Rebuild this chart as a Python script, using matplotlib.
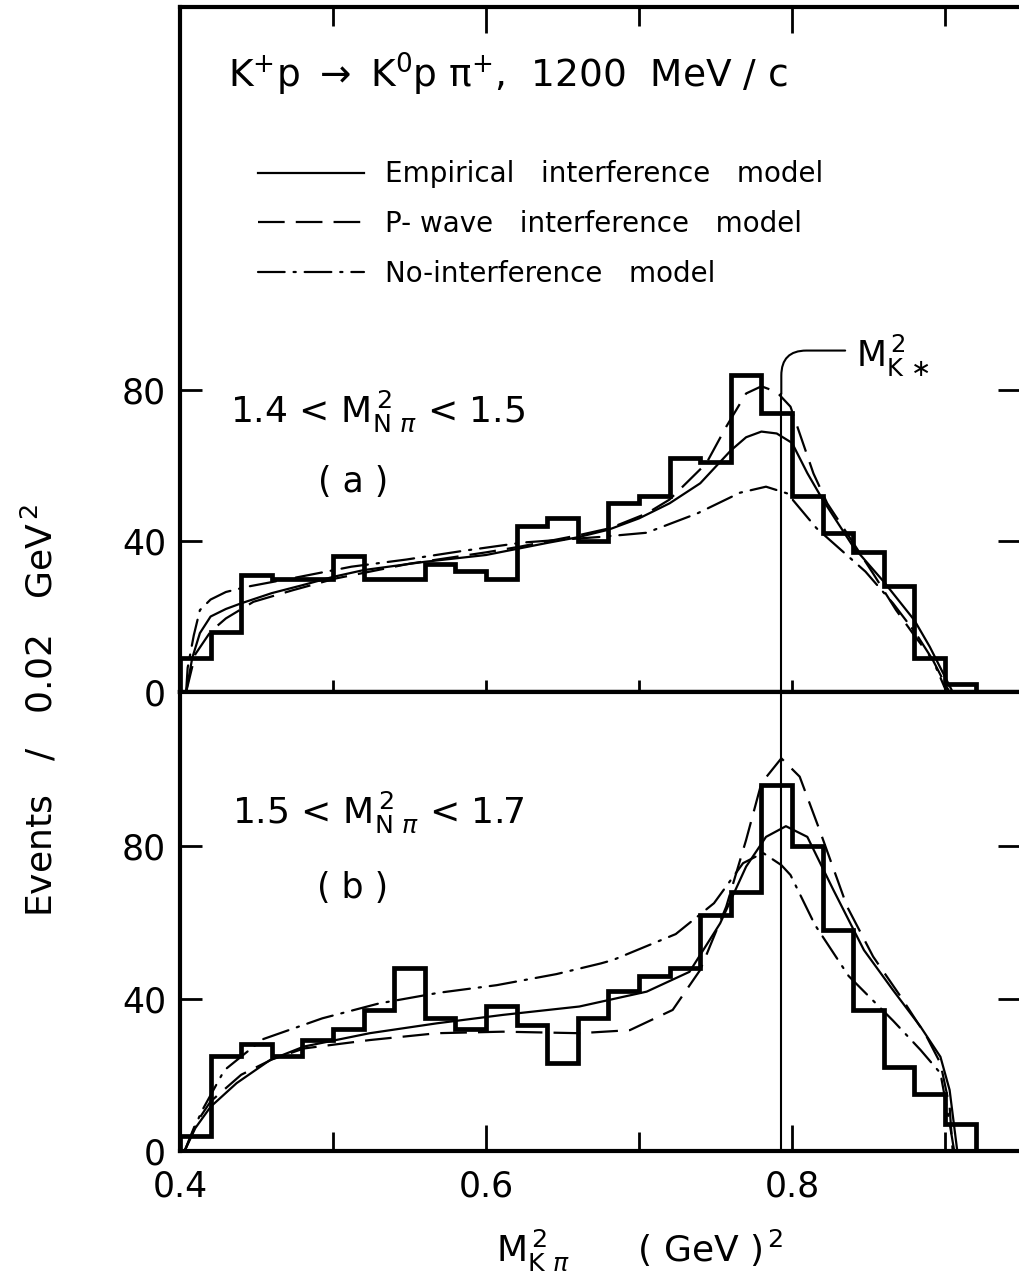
import matplotlib
matplotlib.use('Agg')
import matplotlib.pyplot as plt
import numpy as np

# bin edges of the K pi mass-squared histograms (GeV^2)
edges = [0.40, 0.42, 0.44, 0.46, 0.48, 0.50, 0.52, 0.54, 0.56, 0.58, 0.60,
         0.62, 0.64, 0.66, 0.68, 0.70, 0.72, 0.74, 0.76, 0.78, 0.80, 0.82,
         0.84, 0.86, 0.88, 0.90, 0.92]

# (a) 1.4 < M^2(N pi) < 1.5
counts_a = [9, 16, 31, 30, 30, 36, 30, 30, 34, 32, 30, 44, 46, 40, 50, 52,
            62, 61, 84, 74, 52, 42, 37, 28, 9, 2]
# (b) 1.5 < M^2(N pi) < 1.7
counts_b = [4, 25, 28, 25, 29, 32, 37, 48, 35, 32, 38, 33, 23, 35, 42, 46,
            48, 62, 68, 96, 80, 58, 37, 22, 15, 7]

# model curves
emp_a_x = [0.404, 0.408, 0.413, 0.42, 0.43, 0.44, 0.46, 0.48, 0.50, 0.52, 0.56,
           0.60, 0.64, 0.66, 0.68, 0.70, 0.72, 0.74, 0.76, 0.77, 0.78, 0.79,
           0.80, 0.81, 0.82, 0.84, 0.86, 0.88, 0.89, 0.90, 0.905]
emp_a_y = [0, 9, 15.6, 20, 22, 23.5, 26.2, 28.3, 30.5, 32.3, 34.5,
           36.3, 39.5, 41, 43, 46, 50, 55.3, 64, 67.5, 69, 68.5,
           66, 58, 51, 38.5, 29.2, 19, 12, 4, 0]
pw_a_x = [0.404, 0.41, 0.42, 0.43, 0.448, 0.474, 0.502, 0.55, 0.60, 0.622, 0.66,
          0.681, 0.705, 0.72, 0.744, 0.757, 0.770, 0.780, 0.790, 0.799, 0.805,
          0.814, 0.823, 0.836, 0.853, 0.868, 0.879, 0.892, 0.901, 0.903]
pw_a_y = [0, 10, 16, 19.5, 23.9, 27, 30.1, 34, 37, 38.5, 41.5,
          43.4, 47.3, 51, 60.6, 70.3, 79.1, 81, 79.5, 75.6, 68.5,
          57.9, 50, 42, 31.4, 21.7, 15.5, 8.5, 1.4, 0]
noi_a_x = [0.404, 0.405, 0.409, 0.413, 0.42, 0.43, 0.444, 0.478, 0.512, 0.548,
           0.585, 0.624, 0.675, 0.705, 0.738, 0.766, 0.783, 0.797, 0.816,
           0.848, 0.866, 0.881, 0.892, 0.901]
noi_a_y = [0, 6.4, 15, 21.7, 24.5, 26.5, 27.9, 30.5, 33.2, 35.1,
           37.4, 39.6, 41.1, 42.2, 47.3, 52.8, 54.4, 52.6, 43.4,
           31.9, 23.5, 15.5, 8.5, 0]

emp_b_x = [0.403, 0.41, 0.42, 0.437, 0.459, 0.481, 0.524, 0.568, 0.611, 0.661,
           0.705, 0.733, 0.753, 0.770, 0.783, 0.796, 0.81, 0.827, 0.847, 0.866,
           0.884, 0.897, 0.903, 0.908]
emp_b_y = [0, 6, 11.6, 17.8, 23.9, 27.4, 30.9, 33.5, 35.7, 37.9,
           41.8, 47, 59.7, 74.6, 82.4, 85.2, 82.4, 68.5, 52.7, 42.2,
           32.6, 24.7, 16, 0]
pw_b_x = [0.403, 0.41, 0.42, 0.44, 0.46, 0.481, 0.524, 0.568, 0.611, 0.661,
          0.694, 0.722, 0.74, 0.757, 0.77, 0.78, 0.793, 0.805, 0.818, 0.836,
          0.853, 0.871, 0.888, 0.897, 0.903, 0.905]
pw_b_y = [0, 7, 13, 20, 24, 26.9, 29.1, 30.9, 31.3, 30.9,
          31.7, 37, 47.5, 64.1, 81.6, 96.5, 103, 98.2, 84.2, 64.1,
          51, 40.5, 30, 23, 11.6, 0]
noi_b_x = [0.403, 0.414, 0.429, 0.454, 0.493, 0.53, 0.569, 0.607, 0.646, 0.675,
           0.683, 0.724, 0.749, 0.768, 0.781, 0.793, 0.799, 0.815, 0.837, 0.866,
           0.884, 0.897, 0.903, 0.906]
noi_b_y = [0, 10.3, 21.2, 29.3, 34.8, 38.7, 41.5, 43.5, 46.4, 49.2,
           50.1, 56.9, 65, 75.5, 78.2, 75, 72.4, 59.3, 45.9, 34.2,
           26.5, 20.4, 7.3, 0]

mk2 = 0.793  # M_K*^2

plt.rcParams['font.family'] = 'DejaVu Sans'
plt.rcParams['mathtext.fontset'] = 'dejavusans'

fig = plt.figure(figsize=(10.2, 12.88), dpi=100)
ax_a = fig.add_axes([180/1020, 1-692/1288, 1-180/1020, 685/1288])
ax_b = fig.add_axes([180/1020, 1-1151/1288, 1-180/1020, 459/1288])

dash = (0, (12, 5))
dashdot = (0, (12, 4, 1, 4))
lw_c = 1.6

for ax, counts, cur in [(ax_a, counts_a, (emp_a_x, emp_a_y, pw_a_x, pw_a_y, noi_a_x, noi_a_y)),
                        (ax_b, counts_b, (emp_b_x, emp_b_y, pw_b_x, pw_b_y, noi_b_x, noi_b_y))]:
    ax.stairs(counts, edges, color='k', linewidth=3.4, baseline=0)
    ax.plot(cur[0], cur[1], color='k', lw=lw_c, label='Empirical   interference   model')
    ax.plot(cur[2], cur[3], color='k', lw=lw_c, linestyle=dash, label='P- wave   interference   model')
    ax.plot(cur[4], cur[5], color='k', lw=lw_c, linestyle=dashdot, dash_capstyle='round',
            label='No-interference   model')
    ax.set_xlim(0.4, 0.949)
    ax.set_xticks([0.4, 0.6, 0.8])
    ax.set_xticks([0.5, 0.7, 0.9], minor=True)
    ax.set_yticks([0, 40, 80])
    ax.set_yticklabels(['0', '40', '80'])
    ax.tick_params(axis='y', which='both', direction='in', left=True, right=True,
                   length=16, width=2, labelsize=25, pad=10)
    ax.spines['right'].set_visible(False)
    for s in ['left', 'top', 'bottom']:
        ax.spines[s].set_linewidth(3)

ax_a.set_ylim(0, 181.5)
ax_b.set_ylim(0, 120.4)

# M_K*^2 marker line
ax_a.plot([mk2, mk2], [0, 79], color='k', lw=1.5)
ax_b.axvline(mk2, color='k', lw=1.5)
ax_a.annotate(r'$\mathrm{M}^{\,2}_{\mathrm{K}\,\ast}$', xy=(mk2, 79), xytext=(0.842, 89),
              fontsize=25, ha='left', va='center',
              arrowprops=dict(arrowstyle='-', lw=1.5, color='k', shrinkA=6, shrinkB=0,
                              relpos=(0, 0.62),
                              connectionstyle='angle,angleA=0,angleB=90,rad=25'))

# x ticks: top panel, ticks along the top edge
ax_a.tick_params(axis='x', which='both', direction='in', top=True, bottom=False,
                 labelbottom=False, width=2)
ax_a.tick_params(axis='x', which='major', length=19)
ax_a.tick_params(axis='x', which='minor', length=14)
sec = ax_a.secondary_xaxis('bottom')
sec.set_xticks([0.4, 0.5, 0.6, 0.7, 0.8, 0.9])
sec.tick_params(axis='x', direction='inout', length=17, width=2, labelbottom=False)
sec.spines['bottom'].set_linewidth(3)

ax_b.tick_params(axis='x', which='both', direction='in', top=False, bottom=True,
                 width=2, labelsize=25, pad=13)
ax_b.tick_params(axis='x', which='major', length=19)
ax_b.tick_params(axis='x', which='minor', length=14)
ax_b.set_xticklabels(['0.4', '0.6', '0.8'])

# texts
ax_a.text(0.057, 0.882, r'$\mathrm{K^{+}p\ \rightarrow\ K^{0}p\ \pi^{+}}$,  1200  MeV / c',
          transform=ax_a.transAxes, fontsize=27, ha='left', va='baseline')
ax_a.text(0.06, 0.394, r'1.4 < M$^{\,2}_{\mathrm{N}\ \pi}$ < 1.5', transform=ax_a.transAxes,
          fontsize=26, ha='left', va='baseline')
ax_a.text(0.206, 0.292, '( a )', transform=ax_a.transAxes, fontsize=25,
          ha='center', va='baseline')
ax_b.text(0.062, 0.715, r'1.5 < M$^{\,2}_{\mathrm{N}\ \pi}$ < 1.7', transform=ax_b.transAxes,
          fontsize=26, ha='left', va='baseline')
ax_b.text(0.205, 0.551, '( b )', transform=ax_b.transAxes, fontsize=25,
          ha='center', va='baseline')

ax_a.legend(loc='upper left', bbox_to_anchor=(0.093, 0.776), frameon=False,
            fontsize=20, handlelength=3.8, handletextpad=0.75, labelspacing=0.78,
            borderpad=0, borderaxespad=0)

fig.text(0.039, 1-710/1288, r'Events   /   0.02   GeV$^{\,2}$', rotation=90,
         fontsize=26, ha='center', va='center')
fig.text(640/1020, 1-1250/1288, r'M$^{\,2}_{\mathrm{K}\ \pi}$      ( GeV )$^{\,2}$',
         fontsize=26, ha='center', va='center')

fig.savefig('out.png', dpi=100)
